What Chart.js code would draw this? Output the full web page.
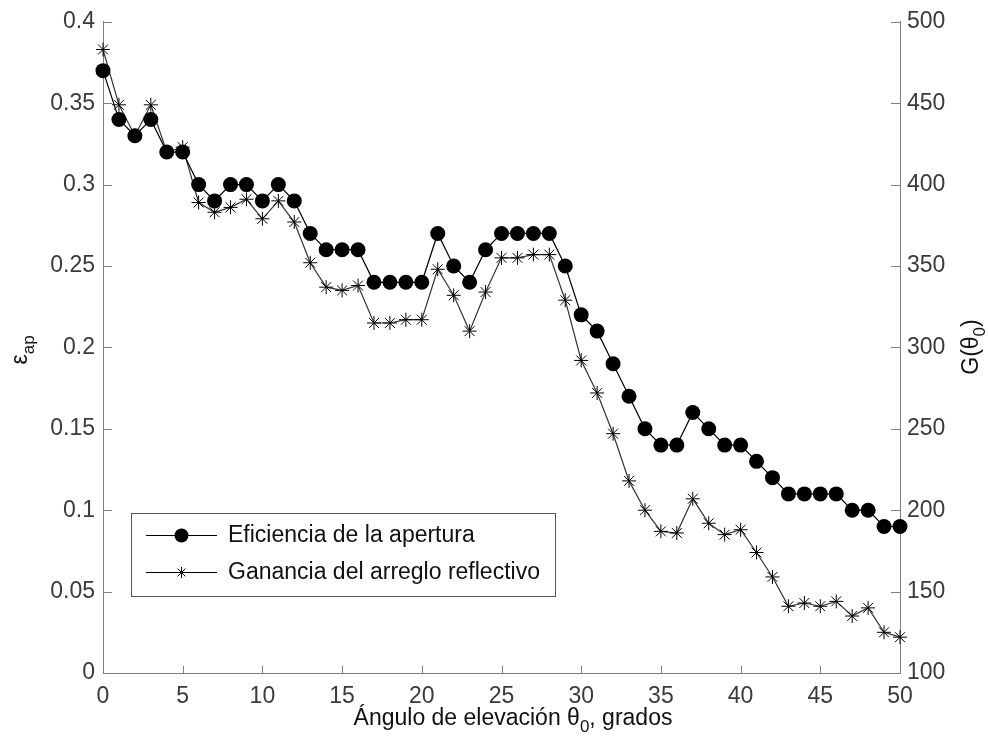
<!DOCTYPE html>
<html>
<head>
<meta charset="utf-8">
<script src="https://cdn.jsdelivr.net/npm/chart.js@4.4.0/dist/chart.umd.min.js"></script>
<style>
  html, body { margin: 0; padding: 0; background: #fff; }
  #wrap { width: 989px; height: 743px; }
</style>
</head>
<body>
<div id="wrap"><canvas id="chart"></canvas></div>
<script>
// angle of elevation, degrees
const angulos = [0, 1, 2, 3, 4, 5, 6, 7, 8, 9, 10, 11, 12, 13, 14, 15, 16, 17, 18, 19, 20,
  21, 22, 23, 24, 25, 26, 27, 28, 29, 30, 31, 32, 33, 34, 35, 36, 37, 38, 39, 40,
  41, 42, 43, 44, 45, 46, 47, 48, 49, 50];

// aperture efficiency (left axis)
const eficiencia = [0.37, 0.34, 0.33, 0.34, 0.32, 0.32, 0.30, 0.29, 0.30, 0.30,
  0.29, 0.30, 0.29, 0.27, 0.26, 0.26, 0.26, 0.24, 0.24, 0.24,
  0.24, 0.27, 0.25, 0.24, 0.26, 0.27, 0.27, 0.27, 0.27, 0.25,
  0.22, 0.21, 0.19, 0.17, 0.15, 0.14, 0.14, 0.16, 0.15, 0.14,
  0.14, 0.13, 0.12, 0.11, 0.11, 0.11, 0.11, 0.10, 0.10, 0.09, 0.09];

// reflectarray gain (right axis)
const ganancia = [483, 449, 430, 449, 420, 423, 389, 383, 386, 391,
  379, 390, 377, 352, 337, 335, 338, 315, 315, 317,
  317, 348, 332, 310, 334, 355, 355, 357, 357, 329,
  292, 272, 247, 218, 200, 187, 186, 207, 192, 185,
  188, 174, 159, 141, 143, 141, 144, 135, 140, 125, 122];

const xTicks = [0, 5, 10, 15, 20, 25, 30, 35, 40, 45, 50];
const yLeftTicks = [0, 0.05, 0.1, 0.15, 0.2, 0.25, 0.3, 0.35, 0.4];
const yRightTicks = [100, 150, 200, 250, 300, 350, 400, 450, 500];

const seriesNames = ['Eficiencia de la apertura', 'Ganancia del arreglo reflectivo'];

const FONT = '"Liberation Sans", Arial, sans-serif';
const AXIS_GRAY = '#808080';
const TEXT_GRAY = '#3a3a3a';

// draws text made of normal and subscript parts, centered on (x, y) baseline
function richText(ctx, parts, x, y, rot, size) {
  ctx.save();
  ctx.translate(x, y);
  ctx.rotate(rot);
  let total = 0;
  parts.forEach(p => {
    ctx.font = (p.sub ? Math.round(size * 0.72) : size) + 'px ' + FONT;
    p.w = ctx.measureText(p.t).width;
    total += p.w;
  });
  let cx = -total / 2;
  ctx.textBaseline = 'alphabetic';
  ctx.textAlign = 'left';
  parts.forEach(p => {
    ctx.font = (p.sub ? Math.round(size * 0.72) : size) + 'px ' + FONT;
    ctx.fillText(p.t, cx, p.sub ? size * 0.32 : 0);
    cx += p.w;
  });
  ctx.restore();
}

function drawMarker(ctx, style, x, y, r) {
  ctx.beginPath();
  if (style === 'circle') {
    ctx.arc(x, y, r, 0, Math.PI * 2);
    ctx.fill();
  } else {
    ctx.moveTo(x - r, y); ctx.lineTo(x + r, y);
    ctx.moveTo(x, y - r); ctx.lineTo(x, y + r);
    const d = r * Math.SQRT1_2;
    ctx.moveTo(x - d, y - d); ctx.lineTo(x + d, y + d);
    ctx.moveTo(x - d, y + d); ctx.lineTo(x + d, y - d);
    ctx.stroke();
  }
}

const decorations = {
  id: 'decorations',
  afterDraw(chart) {
    const ctx = chart.ctx;
    const {x, yL, yR} = chart.scales;
    const area = chart.chartArea;

    // inward tick marks
    ctx.save();
    ctx.strokeStyle = AXIS_GRAY;
    ctx.lineWidth = 1;
    ctx.beginPath();
    xTicks.forEach(v => {
      const px = Math.round(x.getPixelForValue(v)) + 0.5;
      ctx.moveTo(px, area.bottom); ctx.lineTo(px, area.bottom - 7);
    });
    yLeftTicks.forEach(v => {
      const py = Math.round(yL.getPixelForValue(v)) + 0.5;
      ctx.moveTo(area.left, py); ctx.lineTo(area.left + 9, py);
    });
    yRightTicks.forEach(v => {
      const py = Math.round(yR.getPixelForValue(v)) + 0.5;
      ctx.moveTo(area.right, py); ctx.lineTo(area.right - 9, py);
    });
    ctx.stroke();
    ctx.restore();

    // axis titles
    ctx.save();
    ctx.fillStyle = '#111';
    richText(ctx, [{t: 'Ángulo de elevación θ'}, {t: '0', sub: true}, {t: ', grados'}],
      513, 725, 0, 23);
    richText(ctx, [{t: 'ε'}, {t: 'ap', sub: true}], 27, 350, -Math.PI / 2, 23);
    richText(ctx, [{t: 'G(θ'}, {t: '0', sub: true}, {t: ')'}], 978, 347, -Math.PI / 2, 23);
    ctx.restore();

    // legend box
    ctx.save();
    const bx = 131.5, by = 513.5, bw = 424, bh = 83;
    ctx.fillStyle = '#fff';
    ctx.fillRect(bx, by, bw, bh);
    ctx.strokeStyle = '#555';
    ctx.lineWidth = 1;
    ctx.strokeRect(bx, by, bw, bh);
    const rows = [535, 572];
    chart.data.datasets.forEach((ds, i) => {
      const yy = rows[i];
      ctx.strokeStyle = '#000';
      ctx.fillStyle = '#000';
      ctx.lineWidth = 1;
      ctx.beginPath();
      ctx.moveTo(146, yy + 0.5); ctx.lineTo(217, yy + 0.5);
      ctx.stroke();
      drawMarker(ctx, ds.pointStyle, 181.5, yy + 0.5, ds.pointStyle === 'circle' ? 7 : 5.5);
      ctx.fillStyle = '#111';
      ctx.font = '23px ' + FONT;
      ctx.textBaseline = 'middle';
      ctx.textAlign = 'left';
      ctx.fillText(ds.label, 228, yy + 1);
    });
    ctx.restore();
  }
};

const ctx = document.getElementById('chart').getContext('2d');

new Chart(ctx, {
  type: 'line',
  data: {
    labels: angulos,
    datasets: [
      {
        label: seriesNames[0],
        data: angulos.map((a, i) => ({x: a, y: eficiencia[i]})),
        yAxisID: 'yL',
        borderColor: '#000',
        backgroundColor: '#000',
        borderWidth: 1.2,
        pointStyle: 'circle',
        pointRadius: 7.5,
        pointBackgroundColor: '#000',
        pointBorderColor: '#000',
        pointBorderWidth: 0,
        clip: false,
        order: 1
      },
      {
        label: seriesNames[1],
        data: angulos.map((a, i) => ({x: a, y: ganancia[i]})),
        yAxisID: 'yR',
        borderColor: '#333',
        backgroundColor: '#000',
        borderWidth: 1.2,
        pointStyle: 'star',
        pointRadius: 7,
        pointBorderColor: '#000',
        pointBorderWidth: 1,
        clip: false,
        order: 2
      }
    ]
  },
  options: {
    responsive: true,
    maintainAspectRatio: false,
    animation: false,
    events: [],
    layout: { padding: { top: 20, left: 0, right: 0, bottom: 0 } },
    elements: { line: { tension: 0 } },
    plugins: {
      legend: { display: false },
      tooltip: { enabled: false }
    },
    scales: {
      x: {
        type: 'linear',
        min: 0,
        max: 50,
        afterBuildTicks: s => { s.ticks = xTicks.map(v => ({value: v})); },
        afterFit: s => { s.height = 70; },
        grid: { display: true, drawOnChartArea: false, drawTicks: false },
        border: { display: true, color: AXIS_GRAY, width: 1 },
        ticks: { color: TEXT_GRAY, font: { family: FONT, size: 23 }, padding: 10, maxRotation: 0 }
      },
      yL: {
        type: 'linear',
        position: 'left',
        min: 0,
        max: 0.4,
        afterBuildTicks: s => { s.ticks = yLeftTicks.map(v => ({value: v})); },
        afterFit: s => { s.width = 103; },
        grid: { display: true, drawOnChartArea: false, drawTicks: false },
        border: { display: true, color: AXIS_GRAY, width: 1 },
        ticks: {
          color: TEXT_GRAY, font: { family: FONT, size: 23 }, padding: 8,
          callback: v => String(+Number(v).toFixed(2))
        }
      },
      yR: {
        type: 'linear',
        position: 'right',
        min: 100,
        max: 500,
        afterBuildTicks: s => { s.ticks = yRightTicks.map(v => ({value: v})); },
        afterFit: s => { s.width = 89; },
        grid: { display: true, drawOnChartArea: false, drawTicks: false },
        border: { display: true, color: AXIS_GRAY, width: 1 },
        ticks: { color: TEXT_GRAY, font: { family: FONT, size: 23 }, padding: 7 }
      }
    }
  },
  plugins: [decorations]
});
</script>
</body>
</html>
